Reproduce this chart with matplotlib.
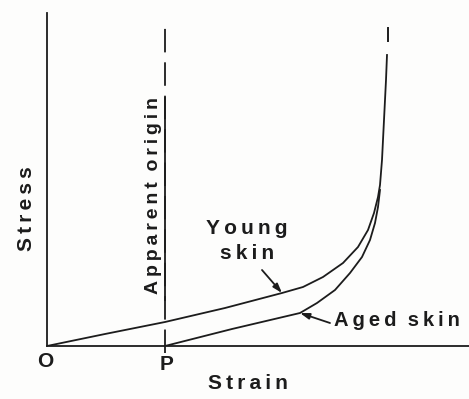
import matplotlib
matplotlib.use("Agg")
import matplotlib.pyplot as plt

# Stress-strain curves for young and aged skin (arbitrary units)
young_strain = [0.00, 0.58, 1.18, 1.78, 2.35, 2.56, 2.76, 2.96, 3.11, 3.21,
                3.27, 3.31, 3.33, 3.35, 3.37, 3.39, 3.40]
young_stress = [0.00, 0.12, 0.24, 0.38, 0.53, 0.59, 0.69, 0.83, 0.99, 1.16,
                1.33, 1.49, 1.61, 1.86, 2.26, 2.66, 2.91]

aged_strain = [1.18, 1.85, 2.53, 2.70, 2.88, 3.03, 3.15, 3.23, 3.28, 3.31, 3.33]
aged_stress = [0.00, 0.17, 0.33, 0.43, 0.56, 0.73, 0.89, 1.06, 1.23, 1.39, 1.56]

# point P: the apparent origin of the aged curve
apparent_origin = 1.18
# short dash above the steep end of the curves
limit_strain = 3.41
limit_stress = [3.05, 3.18]

INK = "#1c1c1c"
FONT = ["Liberation Sans", "DejaVu Sans"]


def spaced(text):
    """Add a little tracking between letters."""
    return "\u2009".join(text)


fig = plt.figure(figsize=(4.69, 3.99), dpi=100)
fig.patch.set_facecolor("#fdfdfc")
ax = fig.add_axes([47 / 469, 53 / 399, 422 / 469, 333 / 399])
ax.set_facecolor("none")
ax.set_xlim(0, 4.22)
ax.set_ylim(0, 3.33)

for side in ["top", "right"]:
    ax.spines[side].set_visible(False)
for side in ["left", "bottom"]:
    ax.spines[side].set_color(INK)
    ax.spines[side].set_linewidth(1.3)
ax.set_xticks([])
ax.set_yticks([])

# curves
ax.plot(young_strain, young_stress, color=INK, lw=1.3, solid_joinstyle="round")
ax.plot(aged_strain, aged_stress, color=INK, lw=1.3, solid_joinstyle="round")
ax.plot([limit_strain, limit_strain], limit_stress, color=INK, lw=1.4)

# apparent origin line (dashed, underline of the label is solid)
ax.plot([apparent_origin, apparent_origin], [-0.07, 3.18], color=INK, lw=1.3,
        dashes=(13, 5.5), clip_on=False)
ax.plot([apparent_origin, apparent_origin], [0.46, 2.48], color=INK, lw=1.3)
ax.text(1.065, 1.50, spaced("Apparent") + "  " + spaced("origin"), rotation=90,
        ha="center", va="center", fontsize=14, fontweight="bold",
        family=FONT, color=INK)

# labels
txt = dict(fontsize=15, fontweight="bold", family=FONT, color=INK,
           ha="center", va="center", clip_on=False)
ax.text(-0.02, -0.155, "O", **txt)
ax.text(1.20, -0.19, "P", **txt)
ax.text(2.01, -0.375, spaced("Strain"), **txt)
ax.text(-0.20, 1.37, spaced("Stress"), rotation=90, **txt)
ax.text(2.00, 1.05, spaced("Young") + "\n" + spaced("skin"), linespacing=1.35, **txt)
ax.text(2.87, 0.255, spaced("Aged") + "  " + spaced("skin"),
        **{**txt, "ha": "left", "fontsize": 14.5})

arrow = dict(arrowstyle="-|>,head_length=0.55,head_width=0.18", color=INK,
             lw=1.3, shrinkA=0, shrinkB=0)
ax.annotate("", xy=(2.35, 0.53), xytext=(2.15, 0.76), arrowprops=arrow)
ax.annotate("", xy=(2.53, 0.33), xytext=(2.83, 0.23), arrowprops=arrow)

fig.savefig("out.png", dpi=100, facecolor=fig.get_facecolor())
